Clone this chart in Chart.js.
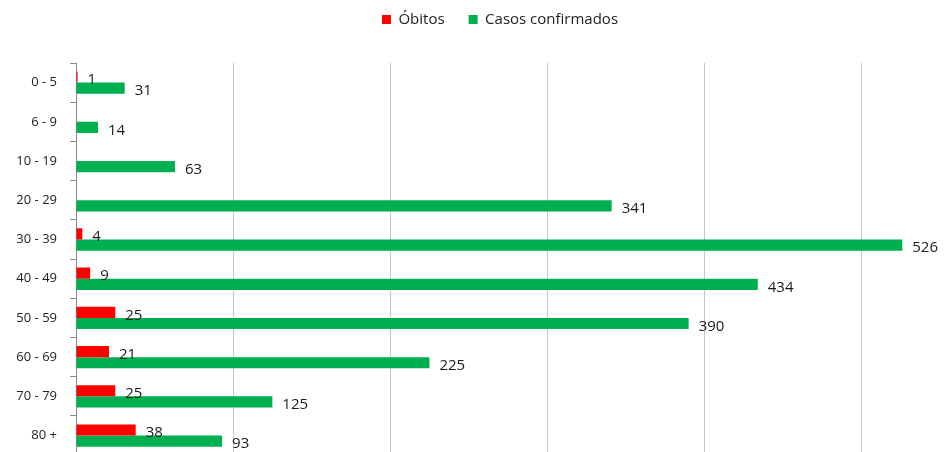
<!DOCTYPE html>
<html><head><meta charset="utf-8">
<script src="https://cdn.jsdelivr.net/npm/chart.js@4"></script>
<style>html,body{margin:0;padding:0;background:#fff;overflow:hidden;width:945px;height:452px}#wrap{width:945px;height:476px;position:relative}</style>
</head><body><div id="wrap"><canvas id="c"></canvas></div>
<script>
const categories = ["0 - 5","6 - 9","10 - 19","20 - 29","30 - 39","40 - 49","50 - 59","60 - 69","70 - 79","80 +"];
const obitos = [1,0,0,0,4,9,25,21,25,38];
const casos = [31,14,63,341,526,434,390,225,125,93];
const seriesNames = ["Óbitos","Casos confirmados"];
const FONT = "'Open Sans', 'DejaVu Sans', sans-serif";

const labelPlugin = {
  id: 'barLabels',
  afterDatasetsDraw(chart) {
    const ctx = chart.ctx;
    ctx.save();
    ctx.font = "15px " + FONT;
    ctx.fillStyle = "#1a1a1a";
    ctx.textAlign = "left";
    ctx.textBaseline = "middle";
    chart.data.datasets.forEach((ds, di) => {
      const meta = chart.getDatasetMeta(di);
      meta.data.forEach((bar, i) => {
        const v = ds.data[i];
        if (!v) return;
        ctx.fillText(String(v), bar.x + 10, bar.y + 3);
      });
    });
    ctx.restore();
  }
};

new Chart(document.getElementById('c'), {
  type: 'bar',
  data: {
    labels: categories,
    datasets: [
      {label: seriesNames[0], data: obitos, backgroundColor: '#FF0000', categoryPercentage: 0.57, barPercentage: 1},
      {label: seriesNames[1], data: casos, backgroundColor: '#00B050', categoryPercentage: 0.57, barPercentage: 1}
    ]
  },
  options: {
    indexAxis: 'y',
    responsive: true,
    maintainAspectRatio: false,
    animation: false,
    layout: {padding: {top: 0, right: 5, bottom: 0, left: 0}},
    plugins: {
      legend: {
        position: 'top',
        labels: {boxWidth: 9, boxHeight: 9, padding: 24, color: '#222', font: {family: FONT, size: 15}},
      },
      tooltip: {enabled: false}
    },
    scales: {
      x: {
        min: 0, max: 550,
        ticks: {display: false, stepSize: 100},
        grid: {color: '#c6c6c6', drawTicks: false, lineWidth: 1},
        border: {display: false},
        afterBuildTicks(scale) { scale.ticks = scale.ticks.filter(t => t.value % 100 === 0); }
      },
      y: {
        offset: true,
        ticks: {color: '#222', font: {family: FONT, size: 13}, padding: 13},
        grid: {offset: true, drawOnChartArea: false, tickLength: 6, color: '#8a8a8a'},
        border: {display: true, color: '#8a8a8a'},
        afterFit(scale) { scale.width = 76; }
      }
    }
  },
  plugins: [labelPlugin, {
    id: 'legendMargin',
    beforeInit(chart) {
      const orig = chart.legend.fit;
      chart.legend.fit = function() { orig.bind(chart.legend)(); this.height = 63; };
    },
    afterLayout(chart) {
      chart.legend.left += 30;
      chart.legend.right += 30;
      chart.legend.top -= 12;
      chart.legend.bottom -= 12;
    }
  }]
});
</script></body></html>
